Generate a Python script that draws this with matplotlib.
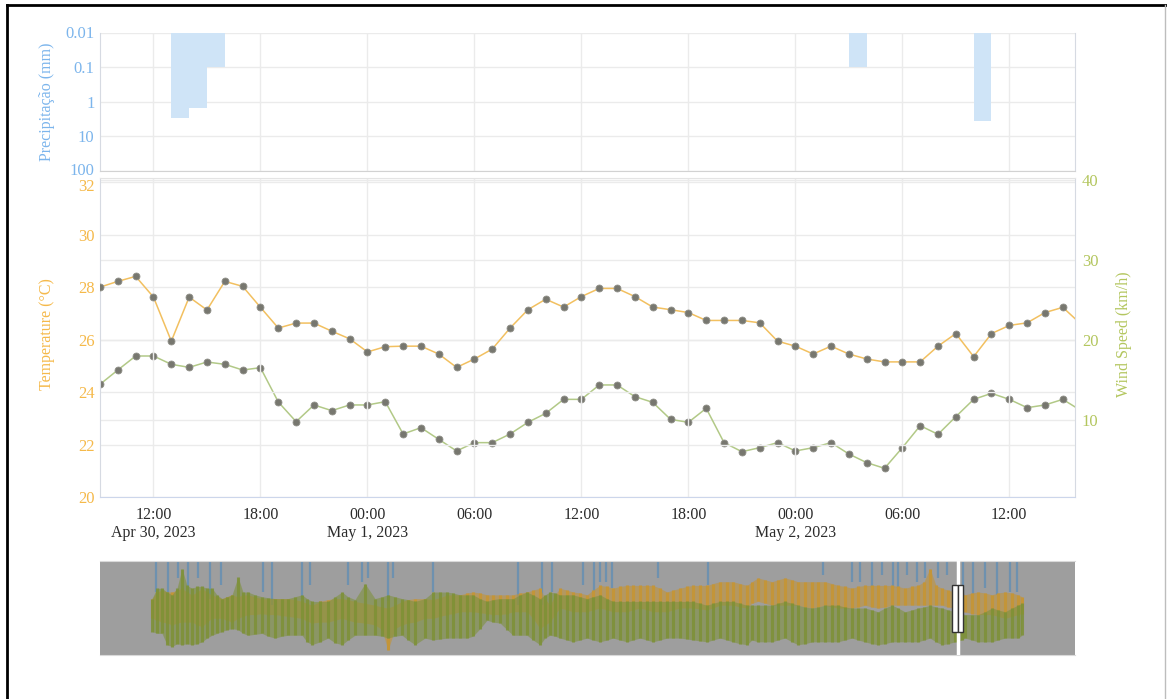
import matplotlib
matplotlib.use("Agg")
from matplotlib import pyplot as plt
import matplotlib.dates as mdates
import matplotlib.transforms as mtransforms
from matplotlib.lines import Line2D
from matplotlib.patches import Rectangle
from matplotlib.ticker import FixedLocator, FixedFormatter, NullLocator, FuncFormatter
import pandas as pd

plt.rcParams['font.family'] = ['Liberation Serif', 'DejaVu Serif']

# hourly readings starting 30 Apr 2023 09:00
start = pd.Timestamp('2023-04-30 09:00')
view_end = pd.Timestamp('2023-05-02 15:41')

temperature = [28.0, 28.22, 28.41, 27.62, 25.94, 27.62, 27.13, 28.22, 28.03, 27.23,
               26.44, 26.63, 26.63, 26.32, 26.03, 25.53, 25.73, 25.75, 25.75, 25.45,
               24.94, 25.26, 25.64, 26.44, 27.14, 27.54, 27.24, 27.64, 27.95, 27.95,
               27.64, 27.24, 27.14, 27.03, 26.73, 26.73, 26.73, 26.64, 25.94, 25.75,
               25.45, 25.75, 25.45, 25.26, 25.15, 25.15, 25.15, 25.75, 26.23, 25.35,
               26.23, 26.54, 26.64, 27.03, 27.23, 26.6]
wind_speed = [14.46, 16.25, 18.0, 18.0, 16.96, 16.58, 17.25, 16.96, 16.25, 16.54,
              12.25, 9.79, 11.88, 11.17, 11.88, 11.88, 12.29, 8.25, 9.04, 7.58,
              6.13, 7.17, 7.17, 8.25, 9.71, 10.83, 12.58, 12.58, 14.38, 14.38,
              12.92, 12.21, 10.08, 9.71, 11.46, 7.17, 6.04, 6.54, 7.17, 6.13,
              6.54, 7.17, 5.75, 4.67, 3.96, 6.54, 9.29, 8.21, 10.42, 12.58,
              13.33, 12.58, 11.54, 11.88, 12.58, 11.2]
hours = pd.date_range(start, periods=len(temperature), freq='h')

# hourly rain totals (mm), keyed by the start of the hour
rain_start = pd.to_datetime(['2023-04-30 13:00', '2023-04-30 14:00', '2023-04-30 15:00',
                             '2023-05-02 03:00', '2023-05-02 10:00'])
rain_mm = [3.0, 1.5, 0.1, 0.1, 3.5]

# navigator: whole record, days since first reading, band edges in % of panel height
nav_day = [10.4, 11.4, 12.4, 13.4, 14.4, 15.4, 16.4, 17.4, 18.4, 19.4,
           20.4, 21.4, 22.4, 23.4, 24.4, 25.4, 26.4, 27.6, 28.6, 29.6,
           31.0, 32.4, 33.6, 35.0, 36.4, 37.6, 39.0, 40.4, 41.4, 42.4,
           44.0, 45.6, 47.0, 48.4, 49.6, 51.0, 53.0, 55.0, 56.4, 57.6,
           59.0, 60.4, 61.6, 63.0, 65.0, 66.6, 68.0, 69.4, 70.6, 72.0,
           73.4, 74.6, 76.0, 77.4, 78.6, 80.0, 81.4, 82.6, 84.0, 85.4,
           86.6, 88.0, 89.0, 90.0, 91.0, 92.0, 93.4, 94.6, 96.0, 97.4,
           98.6, 100.0, 101.4, 102.6, 104.0, 105.4, 106.6, 108.0, 109.4, 110.6,
           112.0, 113.4, 114.6, 116.0, 117.4, 118.6, 120.0, 121.4, 122.6, 124.0,
           125.4, 126.6, 128.0, 129.4, 130.4, 131.6, 133.0, 134.4, 135.6, 137.0,
           138.4, 139.6, 141.0, 142.4, 143.6, 145.0, 146.4, 147.6, 149.0, 150.4,
           151.6, 153.0, 154.4, 155.6, 157.0, 158.4, 159.6, 161.0, 162.4, 163.6,
           164.8, 166.0, 167.2, 168.4, 169.6, 171.0, 172.4, 173.0, 174.4, 175.6,
           177.0, 178.4, 179.6, 181.0, 182.4, 183.6, 184.4]
nav_temp_hi = [60, 67, 69, 67, 67, 69, 71, 67, 64, 67,
               71, 67, 64, 62, 60, 62, 64, 62, 64, 64,
               62, 60, 60, 60, 60, 60, 59, 57, 55, 53,
               57, 59, 60, 60, 59, 57, 55, 53, 51, 50,
               53, 57, 59, 60, 60, 59, 61, 64, 64, 64,
               66, 67, 66, 64, 64, 64, 64, 64, 66, 67,
               69, 71, 60, 53, 64, 71, 69, 67, 66, 64,
               69, 74, 73, 71, 73, 74, 74, 74, 74, 74,
               71, 67, 69, 71, 73, 74, 74, 74, 76, 78,
               78, 78, 76, 74, 78, 82, 80, 78, 80, 82,
               80, 78, 78, 78, 78, 78, 76, 74, 73, 71,
               73, 74, 74, 74, 74, 74, 73, 71, 73, 74,
               78, 92, 74, 71, 69, 67, 66, 64, 66, 67,
               66, 64, 66, 67, 66, 64, 62]
nav_temp_lo = [39, 37, 35, 34, 32, 34, 35, 35, 35, 32,
               30, 35, 39, 39, 39, 37, 35, 39, 41, 43,
               43, 44, 43, 43, 42, 41, 40, 39, 36, 34,
               35, 35, 37, 39, 37, 35, 34, 32, 27, 5,
               28, 32, 34, 35, 39, 39, 41, 43, 44, 46,
               46, 46, 45, 44, 43, 43, 44, 46, 46, 46,
               39, 28, 32, 35, 43, 50, 48, 46, 46, 46,
               48, 50, 48, 46, 46, 46, 48, 50, 48, 46,
               46, 46, 48, 50, 50, 50, 49, 48, 50, 53,
               53, 53, 51, 50, 55, 57, 55, 53, 53, 53,
               53, 53, 51, 50, 51, 53, 51, 50, 50, 50,
               51, 53, 51, 50, 51, 53, 53, 53, 53, 53,
               53, 53, 53, 53, 51, 50, 48, 46, 44, 43,
               43, 43, 41, 39, 41, 43, 44]
nav_wind_hi = [60, 71, 71, 67, 64, 71, 92, 74, 71, 73,
               73, 71, 71, 64, 60, 62, 64, 83, 67, 67,
               64, 62, 61, 60, 60, 60, 62, 64, 60, 57,
               57, 57, 62, 67, 62, 59, 76, 60, 62, 64,
               62, 60, 59, 57, 60, 67, 67, 67, 66, 64,
               64, 64, 60, 57, 59, 60, 60, 60, 64, 67,
               64, 60, 64, 67, 66, 64, 64, 64, 62, 60,
               62, 64, 60, 57, 57, 57, 57, 57, 57, 57,
               57, 57, 57, 57, 57, 57, 55, 53, 55, 57,
               57, 57, 55, 53, 53, 53, 53, 53, 55, 57,
               55, 53, 51, 50, 51, 53, 53, 53, 51, 50,
               50, 50, 48, 46, 50, 53, 50, 46, 48, 50,
               51, 53, 51, 50, 48, 46, 44, 43, 43, 43,
               46, 50, 48, 46, 50, 53, 55]
nav_wind_lo = [25, 23, 23, 11, 9, 12, 11, 12, 11, 12,
               14, 18, 21, 23, 25, 27, 28, 27, 23, 21,
               22, 23, 20, 18, 20, 21, 21, 21, 14, 11,
               14, 18, 13, 11, 16, 21, 21, 21, 20, 18,
               20, 21, 16, 11, 18, 16, 17, 18, 18, 18,
               18, 20, 28, 37, 35, 34, 27, 21, 21, 21,
               16, 11, 18, 21, 20, 18, 16, 14, 16, 18,
               16, 14, 16, 18, 16, 14, 16, 18, 16, 14,
               16, 18, 18, 18, 17, 16, 15, 14, 16, 18,
               16, 14, 12, 11, 16, 14, 14, 14, 16, 18,
               14, 11, 12, 14, 14, 14, 14, 14, 16, 18,
               16, 14, 12, 11, 12, 14, 14, 14, 14, 14,
               16, 18, 14, 11, 12, 14, 16, 18, 16, 14,
               14, 14, 16, 18, 18, 18, 21]
nav_rain_day = [11.2, 13.6, 15.6, 17.6, 19.6, 22.0, 24.2, 32.6, 34.4, 40.4,
                42.0, 49.6, 52.4, 53.6, 57.6, 58.6, 66.6, 83.6, 88.4, 90.4,
                96.6, 98.8, 100.0, 101.2, 102.4, 111.6, 121.6, 144.6, 150.4, 152.0,
                154.4, 156.4, 158.6, 159.6, 161.4, 163.4, 165.0, 167.6, 169.4, 172.6,
                174.6, 177.0, 179.4, 182.0, 183.4]
nav_rain_lvl = [67, 60, 82, 53, 82, 60, 74, 67, 53, 60,
                74, 74, 78, 82, 57, 82, 67, 53, 53, 67,
                74, 67, 78, 78, 71, 82, 74, 85, 78, 78,
                71, 85, 71, 71, 85, 78, 82, 82, 85, 60,
                64, 71, 64, 67, 67]
nav_view_start = 170.4   # day at which the plotted window begins

TEMP = '#f5b94a'
TEMP_LINE = '#f2c060'
WIND = '#b3c65e'
WIND_LINE = '#b2c987'
RAIN = '#7cb5ec'
RAIN_BAR = '#cfe4f7'
MARKER = '#77776f'
GRID = '#ebebeb'
AXIS = '#d6dae2'
NAV_TEMP = '#c39539'
NAV_WIND = '#7d9137'

W, H = 1167, 699


def box(x0, y0, x1, y1):
  return [x0 / W, 1 - y1 / H, (x1 - x0) / W, (y1 - y0) / H]


def time_label(x, pos):
  t = mdates.num2date(x)
  s = t.strftime('%H:%M')
  if t.hour == 0 or x - mdates.date2num(start) < 0.25:
    s += '\n' + f'{t:%b} {t.day}, {t.year}'
  return s


def nudge(label, dy):
  # shift one tick label up/down by dy pixels
  label.set_transform(label.get_transform() + mtransforms.Affine2D().translate(0, dy))


fig = plt.figure(figsize=(W / 100, H / 100), dpi=100)

ax_p = fig.add_axes(box(100, 32.5, 1075, 171))
ax_t = fig.add_axes(box(100, 178, 1075, 497), sharex=ax_p)
ax_w = ax_t.twinx()
ax_n = fig.add_axes(box(100, 561, 1075, 655))

# temperature axes on top so its line sits over the wind grid
ax_t.set_zorder(ax_w.get_zorder() + 1)
ax_t.patch.set_visible(False)
ax_w.patch.set_visible(True)
ax_w.patch.set_facecolor('white')

############ precipitation ############
ax_p.bar(mdates.date2num(rain_start), [v - 0.01 for v in rain_mm], width=1 / 24,
         bottom=0.01, align='edge', color=RAIN_BAR, linewidth=0, zorder=2)
ax_p.set_yscale('log')
ax_p.set_ylim(100, 0.01)
ax_p.yaxis.set_major_locator(FixedLocator([0.01, 0.1, 1, 10, 100]))
ax_p.yaxis.set_major_formatter(FixedFormatter(['0.01', '0.1', '1', '10', '100']))
ax_p.yaxis.set_minor_locator(NullLocator())
ax_p.tick_params(axis='y', length=0, pad=4, labelsize=12, labelcolor=RAIN)
ax_p.tick_params(axis='x', length=0, labelbottom=False)
ax_p.grid(True, color=GRID, linewidth=1)
ax_p.set_axisbelow(True)
for side in ('left', 'right'):
  ax_p.spines[side].set_color(AXIS)
ax_p.spines['top'].set_visible(False)
ax_p.spines['bottom'].set_color('#d2d2d2')
ax_p.set_ylabel('Precipitação (mm)', color=RAIN, fontsize=11.5)
ax_p.yaxis.set_label_coords(-0.046, 0.5)

############ temperature / wind ############
ax_t.plot(hours, temperature, color=TEMP_LINE, linewidth=1.1, marker='o', markersize=5,
          markerfacecolor=MARKER, markeredgecolor='#8f8f88', markeredgewidth=0.6, zorder=3)
ax_w.plot(hours, wind_speed, color=WIND_LINE, linewidth=1.1, marker='o', markersize=5,
          markerfacecolor=MARKER, markeredgecolor='#8f8f88', markeredgewidth=0.6, zorder=3)

ax_t.set_xlim(start, view_end)
ax_t.set_ylim(20, 32.16)
ax_t.set_yticks(range(20, 33, 2))
ax_w.set_ylim(0.375, 40.25)
ax_w.set_yticks([10, 20, 30, 40])

ax_t.xaxis.set_major_locator(mdates.HourLocator(byhour=[0, 6, 12, 18]))
ax_t.xaxis.set_major_formatter(FuncFormatter(time_label))
ax_t.tick_params(axis='x', length=0, pad=7, labelsize=11.5, labelcolor='#2b2b2b')
ax_t.tick_params(axis='y', length=0, pad=4, labelsize=12, labelcolor=TEMP)
ax_w.tick_params(axis='y', length=0, pad=5, labelsize=12, labelcolor=WIND)

ax_t.grid(True, color=GRID, linewidth=1)
ax_w.grid(True, axis='y', color=GRID, linewidth=1)
ax_t.set_axisbelow(True)
ax_w.set_axisbelow(True)

for side in ('left', 'right'):
  ax_t.spines[side].set_color(AXIS)
ax_t.spines['bottom'].set_color('#ccd6eb')
ax_t.spines['top'].set_color('#e4e4e4')
for sp in ax_w.spines.values():
  sp.set_visible(False)

ax_t.set_ylabel('Temperature (°C)', color=TEMP, fontsize=11.5)
ax_t.yaxis.set_label_coords(-0.046, 0.51)
ax_w.set_ylabel('Wind Speed (km/h)', color=WIND, fontsize=11.5, rotation=90)
ax_w.yaxis.set_label_coords(1.042, 0.51)

# the "100" and "32" labels sit right on top of each other at the panel join
fig.canvas.draw()
nudge(ax_p.get_yticklabels()[-1], 2)
nudge(ax_t.get_yticklabels()[-1], -3)

############ navigator ############
ax_n.set_facecolor('#9e9e9e')
ax_n.vlines(nav_rain_day, nav_rain_lvl, 100, color='#5f8db5', alpha=0.75, linewidth=1.6, zorder=1)
ax_n.fill_between(nav_day, nav_temp_lo, nav_temp_hi, color=NAV_TEMP, alpha=0.6, linewidth=0, zorder=2)
ax_n.vlines(nav_day, nav_temp_lo, nav_temp_hi, color=NAV_TEMP, linewidth=2.2, zorder=2)
ax_n.fill_between(nav_day, nav_wind_lo, nav_wind_hi, color=NAV_WIND, alpha=0.55, linewidth=0, zorder=3)
ax_n.vlines(nav_day, nav_wind_lo, nav_wind_hi, color=NAV_WIND, alpha=0.85, linewidth=2.2, zorder=3)

view_len = (view_end - start) / pd.Timedelta(days=1)
sel_mid = nav_view_start + view_len / 2
ax_n.axvline(sel_mid, color='white', linewidth=2.5, zorder=4)
for x0 in (nav_view_start, sel_mid):
  ax_n.add_patch(Rectangle((x0, 24.5), view_len / 2, 50, facecolor='white',
                           edgecolor='#333333', linewidth=1, zorder=5))

ax_n.set_xlim(0, 195)
ax_n.set_ylim(0, 100)
ax_n.set_xticks([])
ax_n.set_yticks([])
for side in ('left', 'right'):
  ax_n.spines[side].set_visible(False)
for side in ('top', 'bottom'):
  ax_n.spines[side].set_color('#d9d9d9')

# outer frame
fig.add_artist(Line2D([7 / W, 7 / W], [0, 1 - 5 / H], color='black', linewidth=2))
fig.add_artist(Line2D([7 / W, 1], [1 - 5 / H, 1 - 5 / H], color='black', linewidth=2))
fig.add_artist(Line2D([1165 / W, 1165 / W], [0, 1 - 5 / H], color='#bdbdbd', linewidth=1))

fig.savefig('out.png', dpi=100)
